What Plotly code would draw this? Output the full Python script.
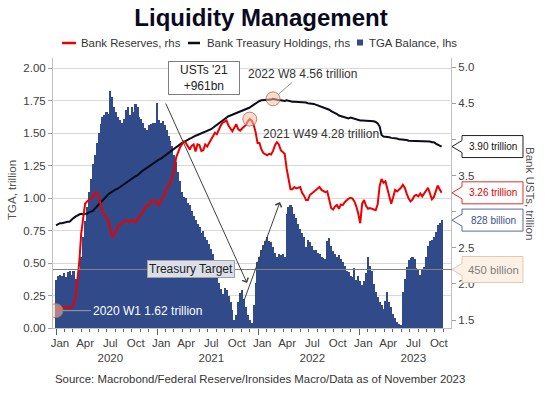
import plotly.graph_objects as go
import pandas as pd

# ---------------- data (weekly, from 2020-01-01) ----------------
start_date = "2020-01-01"

tga_balance = [
    0.37, 0.40, 0.41, 0.40, 0.42, 0.39, 0.43, 0.44, 0.41, 0.44,
    0.38, 0.36, 0.45, 0.55, 0.70, 0.82, 0.93, 1.05, 1.15, 1.26,
    1.33, 1.42, 1.50, 1.57, 1.62, 1.64, 1.66, 1.65, 1.82, 1.78,
    1.70, 1.66, 1.62, 1.60, 1.58, 1.61, 1.68, 1.70, 1.64, 1.70,
    1.66, 1.72, 1.70, 1.62, 1.61, 1.58, 1.54, 1.52, 1.56, 1.57,
    1.58, 1.58, 1.73, 1.60, 1.58, 1.59, 1.56, 1.52, 1.48, 1.44,
    1.40, 1.33, 1.28, 1.20, 1.13, 1.05, 1.01, 1.00, 0.96, 0.95,
    0.90, 0.86, 0.83, 0.80, 0.78, 0.73, 0.75, 0.70, 0.68, 0.65,
    0.61, 0.57, 0.48, 0.40, 0.35, 0.30, 0.26, 0.31, 0.29, 0.25,
    0.20, 0.14, 0.06, 0.10, 0.20, 0.27, 0.29, 0.22, 0.16, 0.10,
    0.06, 0.04, 0.18, 0.35, 0.51, 0.55, 0.60, 0.64, 0.67, 0.70,
    0.67, 0.66, 0.62, 0.58, 0.55, 0.57, 0.56, 0.57, 0.55, 0.88,
    0.93, 0.95, 0.93, 0.88, 0.85, 0.80, 0.76, 0.73, 0.70, 0.62,
    0.68, 0.66, 0.63, 0.60, 0.60, 0.58, 0.57, 0.55, 0.54, 0.53,
    0.67, 0.69, 0.63, 0.59, 0.57, 0.55, 0.56, 0.53, 0.51, 0.48,
    0.44, 0.43, 0.40, 0.39, 0.46, 0.37, 0.40, 0.36, 0.33, 0.36,
    0.42, 0.55, 0.48, 0.44, 0.34, 0.28, 0.24, 0.20, 0.18, 0.15,
    0.21, 0.28, 0.20, 0.16, 0.11, 0.08, 0.05, 0.03, 0.02, 0.28,
    0.38, 0.47, 0.52, 0.54, 0.55, 0.53, 0.46, 0.45, 0.41, 0.45,
    0.47, 0.55, 0.63, 0.67, 0.68, 0.70, 0.74, 0.79, 0.81, 0.83,
]

bank_reserves = [
    1.63, 1.65, 1.66, 1.67, 1.68, 1.68, 1.67, 1.66, 1.68, 1.71,
    1.80, 2.05, 2.30, 2.70, 2.95, 3.11, 3.14, 3.16, 3.17, 3.20,
    3.26, 3.26, 3.21, 3.11, 2.99, 2.95, 2.92, 2.87, 2.77, 2.65,
    2.68, 2.74, 2.80, 2.82, 2.84, 2.86, 2.88, 2.87, 2.86, 2.88,
    2.87, 2.85, 2.90, 2.93, 2.96, 3.01, 3.07, 3.08, 3.09, 3.15,
    3.16, 3.15, 3.12, 3.09, 3.15, 3.19, 3.23, 3.32, 3.36, 3.40,
    3.48, 3.58, 3.75, 3.83, 3.89, 3.93, 3.97, 3.95, 3.90, 3.86,
    3.91, 3.93, 3.83, 3.93, 3.92, 3.84, 3.85, 3.93, 3.90, 3.95,
    3.98, 4.03, 4.09, 4.07, 4.14, 4.19, 4.23, 4.25, 4.26, 4.19,
    4.15, 4.11, 4.16, 4.21, 4.14, 4.12, 4.15, 4.17, 4.20, 4.25,
    4.28, 4.26, 4.20, 4.10, 3.95, 3.95, 3.86, 3.81, 3.79, 3.78,
    3.80, 3.79, 3.84, 3.92, 3.96, 3.93, 3.85, 3.83, 3.80, 3.60,
    3.44, 3.31, 3.31, 3.34, 3.32, 3.33, 3.34, 3.26, 3.22, 3.16,
    3.16, 3.23, 3.25, 3.27, 3.30, 3.32, 3.34, 3.30, 3.29, 3.27,
    3.28, 3.18, 3.05, 3.03, 3.07, 3.09, 3.04, 3.10, 3.09, 3.13,
    3.16, 3.18, 3.19, 3.18, 3.14, 3.07, 2.97, 2.84, 3.11, 3.16,
    3.08, 3.04, 3.05, 3.04, 3.03, 3.02, 3.10, 3.35, 3.45, 3.40,
    3.42, 3.32, 3.22, 3.11, 3.20, 3.30, 3.28, 3.30, 3.33, 3.37,
    3.33, 3.25, 3.18, 3.14, 3.17, 3.22, 3.23, 3.21, 3.25, 3.21,
    3.25, 3.30, 3.33, 3.25, 3.17, 3.20, 3.29, 3.36, 3.31, 3.26,
]

bank_treasuries = [
    2.81, 2.83, 2.84, 2.84, 2.85, 2.85, 2.86, 2.86, 2.89, 2.91,
    2.93, 2.95, 2.96, 2.97, 2.96, 2.97, 2.97, 2.99, 3.00, 3.01,
    3.04, 3.07, 3.10, 3.13, 3.16, 3.19, 3.22, 3.24, 3.26, 3.28,
    3.29, 3.31, 3.32, 3.34, 3.36, 3.38, 3.40, 3.41, 3.43, 3.45,
    3.47, 3.49, 3.50, 3.53, 3.55, 3.57, 3.59, 3.61, 3.63, 3.64,
    3.66, 3.68, 3.70, 3.72, 3.73, 3.75, 3.77, 3.79, 3.81, 3.83,
    3.85, 3.88, 3.90, 3.92, 3.93, 3.95, 3.96, 3.98, 4.00, 4.01,
    4.02, 4.04, 4.05, 4.06, 4.07, 4.08, 4.09, 4.10, 4.12, 4.13,
    4.14, 4.16, 4.18, 4.20, 4.22, 4.25, 4.27, 4.29, 4.30, 4.32,
    4.33, 4.34, 4.36, 4.37, 4.38, 4.39, 4.40, 4.41, 4.42, 4.43,
    4.44, 4.46, 4.48, 4.50, 4.52, 4.53, 4.54, 4.54, 4.55, 4.55,
    4.55, 4.55, 4.56, 4.55, 4.55, 4.54, 4.54, 4.53, 4.53, 4.54,
    4.53, 4.53, 4.52, 4.52, 4.52, 4.51, 4.51, 4.52, 4.51, 4.51,
    4.50, 4.50, 4.49, 4.49, 4.48, 4.47, 4.47, 4.46, 4.45, 4.44,
    4.42, 4.41, 4.39, 4.38, 4.36, 4.35, 4.33, 4.32, 4.31, 4.30,
    4.29, 4.29, 4.30, 4.29, 4.29, 4.28, 4.27, 4.26, 4.26, 4.26,
    4.26, 4.25, 4.26, 4.26, 4.25, 4.24, 4.22, 4.18, 4.06, 4.04,
    4.04, 4.03, 4.03, 4.02, 4.02, 4.01, 4.01, 4.00, 4.00, 4.00,
    3.99, 3.99, 3.98, 3.98, 3.98, 3.97, 3.97, 3.97, 3.97, 3.98,
    3.97, 3.97, 3.97, 3.97, 3.96, 3.96, 3.94, 3.93, 3.91, 3.90,
]

treasury_target = 0.45
label_years = [2020, 2021, 2022, 2023]
label_months = ["Jan", "Apr", "Jul", "Oct"]

dates = pd.date_range(start_date, periods=len(tga_balance), freq="7D")

# ---------------- layout geometry ----------------
W, H = 545, 394
ML, MR, MT, MB = 53, 94, 58, 66
PW, PH = W - ML - MR, H - MT - MB
y1_range = [0, 2.077]
y2_range = [1.39, 5.125]
x_range = ["2019-12-21", "2023-11-28"]

FONT = "Liberation Sans, Arial, sans-serif"
BAR = "#314a8a"
RED = "#ee0000"
BLACK = "#0b0b1a"
TXT = "#404040"

WEEK_MS = 7 * 24 * 3600 * 1000


def pxx(px):
    return (px - ML) / PW


def pxy(py):
    return (MT + PH - py) / PH


def data_to_paper_y(v, rng):
    return (v - rng[0]) / (rng[1] - rng[0])


fig = go.Figure()

fig.add_trace(go.Bar(x=dates, y=tga_balance, name="TGA Balance, lhs",
                     width=WEEK_MS * 1.12,
                     marker=dict(color=BAR, line=dict(width=0)),
                     yaxis="y", showlegend=False))
fig.add_trace(go.Scatter(x=dates, y=bank_treasuries, mode="lines",
                         line=dict(color=BLACK, width=2), yaxis="y2", showlegend=False))
fig.add_trace(go.Scatter(x=dates, y=bank_reserves, mode="lines",
                         line=dict(color=RED, width=2), yaxis="y2", showlegend=False))

# highlighted points
i_res0 = 0
i_res_max = bank_reserves.index(max(bank_reserves))
i_ust_max = bank_treasuries.index(max(bank_treasuries))
hx = [dates[i_res0], dates[i_res_max], dates[i_ust_max]]
hy = [bank_reserves[i_res0], bank_reserves[i_res_max], bank_treasuries[i_ust_max]]
fig.add_trace(go.Scatter(x=hx, y=hy, mode="markers", yaxis="y2", showlegend=False,
                         marker=dict(size=14, color="rgba(248,190,160,0.55)",
                                     line=dict(color="rgba(170,110,90,0.8)", width=1))))

# invisible trace to carry the tick-mark axis
fig.add_trace(go.Scatter(x=[dates[0]], y=[0], mode="markers", xaxis="x2", yaxis="y",
                         marker=dict(opacity=0), showlegend=False, hoverinfo="skip"))

# x tick labels (centred mid-month)
tickvals, ticktext = [], []
for yr in label_years:
    for m_i, m in enumerate(label_months):
        month = 1 + 3 * m_i
        tickvals.append(pd.Timestamp(yr, month, 15))
        ticktext.append(f"{m}<br>{yr}" if m == "Jul" else m)

shapes = []
annotations = []


def note(x, y, text, size=12, color="#333333", xanchor="center", **kw):
    d = dict(x=x, y=y, xref="paper", yref="paper", text=text, showarrow=False,
             xanchor=xanchor, yanchor="middle", font=dict(size=size, color=color, family=FONT))
    d.update(kw)
    annotations.append(d)


# Treasury target line
ty = data_to_paper_y(treasury_target, y1_range)
shapes.append(dict(type="line", xref="paper", yref="paper", x0=0, x1=pxx(452), y0=ty, y1=ty,
                   line=dict(color="#808080", width=1), layer="above"))


def callout(val, rng, text, border, fill, tcolor, size=10, h_px=22):
    yc = data_to_paper_y(val, rng)
    hh = h_px / 2 / PH
    nd = 6 / PH
    xt, x0, x1 = pxx(452), pxx(462), pxx(523)
    path = (f"M {x0:.5f},{yc + hh:.5f} L {x1:.5f},{yc + hh:.5f} L {x1:.5f},{yc - hh:.5f} "
            f"L {x0:.5f},{yc - hh:.5f} L {x0:.5f},{yc - nd:.5f} L {xt:.5f},{yc:.5f} "
            f"L {x0:.5f},{yc + nd:.5f} Z")
    shapes.append(dict(type="path", path=path, xref="paper", yref="paper",
                       line=dict(color=border, width=1), fillcolor=fill, layer="above"))
    note((x0 + x1) / 2 + 1 / PW, yc, text, size=size, color=tcolor)


callout(bank_treasuries[-1], y2_range, f"{bank_treasuries[-1]:.2f} trillion", "#222222", "white", "#111111")
callout(bank_reserves[-1], y2_range, f"{bank_reserves[-1]:.2f} trillion", "#e03030", "white", "#e00000")
callout(tga_balance[-1], y1_range, "828 billion", "#5a6a9a", "white", "#3b4f8a")
callout(treasury_target, y1_range, "450 billion", "#e2c9b2", "#fdf0e4", "#808080", size=11.3, h_px=26)

# Treasury Target label
note(pxx(191), pxy(269), "Treasury Target", color="#222222",
     bgcolor="#dcdee8", bordercolor="#a0a0a8", borderwidth=1, borderpad=1)

# USTs '21 box
note(pxx(204), pxy(78), "USTs '21<br>+961bn", color="#222222",
     bgcolor="white", bordercolor="#808080", borderwidth=1, borderpad=2, width=66, height=28)

# V arrows
annotations.append(dict(x="2021-11-21", y=0.346, ax="2021-01-29", ay=1.738,
                        xref="x", yref="y", axref="x", ayref="y", text="", showarrow=True,
                        arrowhead=4, arrowsize=1.3, arrowwidth=1, arrowcolor="#404040"))
annotations.append(dict(x="2022-03-20", y=0.969, ax="2021-11-07", ay=0.192,
                        xref="x", yref="y", axref="x", ayref="y", text="", showarrow=True,
                        arrowhead=4, arrowsize=1.3, arrowwidth=1, arrowcolor="#404040"))

# point labels
annotations.append(dict(x=dates[i_ust_max], y=bank_treasuries[i_ust_max], xref="x", yref="y2",
                        text="2022 W8 4.56 trillion", showarrow=True, arrowhead=0, arrowwidth=1,
                        arrowcolor="#909090", ax=29, ay=-25, standoff=7,
                        font=dict(size=12, color="#333333", family=FONT)))
annotations.append(dict(x=dates[i_res_max], y=bank_reserves[i_res_max], xref="x", yref="y2",
                        text="2021 W49 4.28 trillion", showarrow=False, xshift=71, yshift=-15,
                        xanchor="center", yanchor="middle",
                        font=dict(size=12, color="#333333", family=FONT)))
annotations.append(dict(x=dates[i_res0], y=bank_reserves[i_res0], xref="x", yref="y2",
                        text="2020 W1 1.62 trillion", showarrow=True, arrowhead=0, arrowwidth=1,
                        arrowcolor="#a0a0a0", ax=91, ay=0, standoff=7,
                        font=dict(size=12, color="white", family=FONT)))

# axis titles
note(pxx(12), pxy(190), "TGA, trillion", size=11.5, color="#555555", textangle=-90)
note(pxx(530), pxy(193), "Bank USTs, trillion", size=11.5, color="#555555", textangle=90)

# legend
leg_y = pxy(43)
shapes.append(dict(type="line", xref="paper", yref="paper", x0=pxx(62), x1=pxx(76), y0=leg_y, y1=leg_y,
                   line=dict(color=RED, width=2.5)))
shapes.append(dict(type="line", xref="paper", yref="paper", x0=pxx(188), x1=pxx(200), y0=leg_y, y1=leg_y,
                   line=dict(color=BLACK, width=2.5)))
shapes.append(dict(type="rect", xref="paper", yref="paper", x0=pxx(357), x1=pxx(363),
                   y0=pxy(45.5), y1=pxy(39.5), line=dict(width=0), fillcolor=BAR))
for txt, px in [("Bank Reserves, rhs", 79), ("Bank Treasury Holdings, rhs", 205), ("TGA Balance, lhs", 367)]:
    note(pxx(px), leg_y, txt, size=11.4, xanchor="left")

# source
note(pxx(53), pxy(379), "Source: Macrobond/Federal Reserve/Ironsides Macro/Data as of November 2023",
     size=11.4, xanchor="left")

y2_ticks = [1.5, 2.0, 2.5, 3.0, 3.5, 4.0, 4.5, 5.0]
y2_text = ["" if v in (3.0, 4.0) else f"{v:.1f}" for v in y2_ticks]

fig.update_layout(
    width=W, height=H,
    margin=dict(l=ML, r=MR, t=MT, b=MB),
    paper_bgcolor="white", plot_bgcolor="white",
    font=dict(family=FONT, size=11.5, color=TXT),
    bargap=0,
    title=dict(text="<b>Liquidity Management</b>", x=261 / W, xref="container", xanchor="center",
               y=1 - 18 / H, yref="container", yanchor="middle",
               font=dict(size=24, color="#0a0a1e", family=FONT)),
    xaxis=dict(range=x_range, type="date", tickmode="array", tickvals=tickvals, ticktext=ticktext,
               ticks="", showgrid=False, showline=True, linecolor="#c0c0c0", linewidth=1,
               tickfont=dict(size=11.5, color=TXT), ticklabelstandoff=4),
    xaxis2=dict(range=x_range, type="date", overlaying="x", anchor="y", side="bottom",
                tickmode="array", tickvals=[pd.Timestamp(y, 1, 1) for y in label_years],
                ticks="outside", ticklen=6, tickcolor="#606060", tickwidth=1,
                minor=dict(dtick="M1", tick0="2020-01-01", ticks="outside", ticklen=3,
                           tickcolor="#606060", tickwidth=1, showgrid=False),
                showticklabels=False, showgrid=False, showline=False),
    yaxis=dict(range=y1_range, tickmode="array", tickvals=[0, 0.25, 0.5, 0.75, 1.0, 1.25, 1.5, 1.75, 2.0],
               tickformat=".2f", ticks="outside", ticklen=4, tickcolor="#a0a0a0",
               showgrid=True, gridcolor="#d9d9d9", gridwidth=1, zeroline=False,
               showline=True, linecolor="#c0c0c0", tickfont=dict(size=11.5, color=TXT)),
    yaxis2=dict(range=y2_range, overlaying="y", side="right", tickmode="array",
                tickvals=y2_ticks, ticktext=y2_text, ticks="outside", ticklen=4, tickcolor="#a0a0a0",
                showgrid=False, zeroline=False, showline=True, linecolor="#c0c0c0",
                tickfont=dict(size=11.5, color=TXT)),
    shapes=shapes,
    annotations=annotations,
    showlegend=False,
)

fig.write_html("out.html", config={"displayModeBar": False},
               post_script="document.body.style.margin='0px';")
